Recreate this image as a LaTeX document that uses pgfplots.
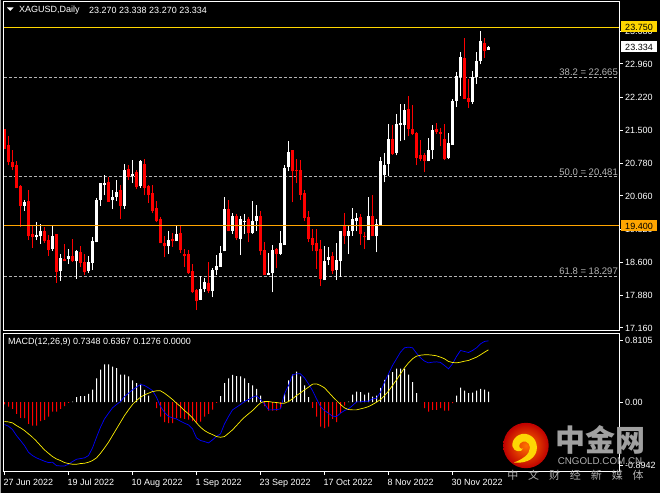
\documentclass[border=0pt]{standalone}
\usepackage{fontspec}
\setmainfont{Liberation Sans}
\newfontfamily\cjk{Noto Sans CJK SC}
\usepackage{pgfplots}
\usepackage{pgfplotstable}
\pgfplotsset{compat=1.18}

\definecolor{fib}{HTML}{B4B4B4}
\definecolor{gold}{HTML}{FFD700}
\definecolor{org}{HTML}{FFA500}
\definecolor{wm}{HTML}{A0A0A0}

% i high top bot low
\pgfplotstableread{
i high top bot low
0 21.54 21.54 21.10 21.10
1 21.37 21.17 20.80 20.73
2 21.06 20.80 20.69 20.62
3 20.82 20.73 20.23 20.23
4 20.29 20.28 19.84 19.38
6 20.20 19.94 19.17 19.09
7 19.41 19.22 19.15 18.92
10 19.37 19.28 19.06 19.03
11 19.21 19.09 18.87 18.74
13 19.22 19.22 18.39 18.15
15 19.01 18.67 18.62 18.62
17 19.11 18.73 18.62 18.61
19 18.95 18.82 18.59 18.50
20 18.79 18.60 18.38 18.32
26 20.47 20.36 19.93 19.93
29 20.31 20.18 19.85 19.55
31 20.75 20.66 20.47 20.40
33 20.64 20.58 20.25 20.22
35 20.88 20.77 20.23 20.07
36 20.31 20.27 20.09 19.90
37 20.29 20.12 19.74 19.68
38 19.94 19.79 19.50 19.48
39 19.59 19.55 19.02 19.02
40 19.17 19.02 18.95 18.71
42 19.24 19.11 19.06 18.94
44 19.43 19.24 18.87 18.81
45 18.90 18.78 18.73 18.50
46 18.87 18.78 18.36 18.34
47 18.56 18.41 17.94 17.92
48 18.01 17.99 17.75 17.55
51 18.60 18.14 17.97 17.92
56 19.96 19.77 19.28 19.28
58 19.67 19.61 19.13 19.09
61 19.59 19.55 19.24 19.04
64 19.72 19.61 18.84 18.76
65 19.04 18.87 18.32 18.32
68 18.91 18.89 18.78 18.47
72 21.08 21.06 20.60 19.92
73 20.88 20.64 20.60 20.34
74 20.84 20.64 20.09 19.98
75 20.18 20.12 19.57 19.50
76 19.72 19.59 19.11 19.04
77 19.33 19.13 18.98 18.84
78 19.33 19.02 18.84 18.45
79 19.09 18.89 18.23 18.08
82 18.82 18.73 18.41 18.35
85 19.68 19.39 19.17 19.00
89 19.66 19.59 19.22 18.98
90 19.26 19.19 19.15 18.89
92 20.09 19.61 19.17 19.17
97 21.61 21.32 20.99 20.97
101 22.26 21.96 21.52 21.37
102 22.05 21.54 21.41 21.39
103 21.47 21.45 20.90 20.73
104 21.30 20.95 20.88 20.82
105 21.01 20.97 20.82 20.58
108 21.67 21.52 21.47 21.43
109 21.56 21.47 21.43 21.15
110 21.63 21.32 20.88 20.84
115 23.52 23.10 22.20 22.18
116 22.62 22.22 22.13 22.00
120 23.54 23.43 23.25 23.10
}\downbars

\pgfplotstableread{
i high top bot low
5 19.98 19.93 19.85 19.74
8 19.49 19.20 19.15 19.09
9 19.45 19.28 19.17 19.00
12 19.39 19.17 18.89 18.85
14 18.79 18.69 18.41 18.19
16 18.90 18.73 18.67 18.57
18 18.87 18.84 18.62 18.24
21 18.73 18.60 18.41 18.37
22 19.15 19.06 18.59 18.43
23 20.01 19.98 19.04 19.04
24 20.34 20.34 19.96 19.84
25 20.51 20.34 20.29 20.07
27 20.18 20.03 19.96 19.77
28 20.40 20.14 20.03 19.94
30 20.77 20.64 19.85 19.78
32 20.84 20.55 20.49 20.34
34 20.86 20.82 20.27 20.23
41 19.28 19.09 18.95 18.78
43 19.39 19.22 19.06 19.06
49 18.30 18.01 17.77 17.77
50 18.25 18.16 18.01 17.95
52 18.47 18.43 17.97 17.83
53 18.76 18.51 18.43 18.32
54 18.95 18.80 18.50 18.50
55 20.03 19.77 18.84 18.84
57 19.69 19.61 19.30 19.22
59 19.63 19.55 19.11 18.76
60 19.66 19.52 19.50 19.22
62 19.94 19.52 19.24 19.22
63 19.87 19.61 19.52 19.28
66 18.80 18.36 18.32 18.32
67 18.98 18.87 18.36 17.94
69 19.30 19.02 18.78 18.76
70 20.73 20.67 18.98 18.98
71 21.26 21.02 20.69 20.60
80 18.95 18.63 18.21 18.21
81 18.93 18.71 18.65 18.54
83 19.02 18.65 18.43 18.21
84 19.30 19.30 18.63 18.28
86 19.39 19.30 19.19 18.78
87 19.79 19.55 19.30 19.19
88 19.68 19.57 19.52 19.28
91 20.03 19.61 19.09 19.09
93 19.55 19.44 19.17 18.82
94 20.91 20.82 19.41 19.41
95 21.01 20.75 20.51 20.36
96 21.63 21.32 20.77 20.49
98 21.85 21.65 21.01 20.95
99 22.07 21.67 21.61 21.26
100 22.09 21.94 21.61 21.28
106 21.34 21.08 20.82 20.82
107 21.61 21.50 21.06 20.88
111 21.45 21.23 20.90 20.88
112 22.20 22.15 21.19 21.19
113 22.79 22.70 22.15 22.02
114 23.23 23.12 22.68 22.26
117 22.81 22.68 22.13 22.07
118 23.23 23.03 22.68 22.53
119 23.69 23.47 23.03 22.95
121 23.36 23.34 23.27 23.27
}\upbars

% MACD histogram
\pgfplotstableread{
i v
0 -.030
1 -.057
2 -.087
3 -.152
4 -.204
5 -.209
6 -.283
7 -.304
8 -.304
9 -.248
10 -.231
11 -.187
12 -.122
13 -.122
14 -.087
15 -.052
16 -.009
38 -.078
39 -.187
40 -.261
41 -.274
42 -.274
43 -.209
44 -.209
45 -.218
46 -.226
47 -.248
48 -.270
49 -.252
50 -.187
51 -.152
52 -.096
53 -.009
65 -.050
66 -.109
67 -.109
68 -.109
69 -.078
77 -.074
78 -.187
79 -.318
80 -.339
81 -.318
82 -.218
83 -.261
84 -.139
85 -.044
105 -.078
106 -.122
107 -.100
108 -.100
109 -.078
110 -.109
111 -.109
112 -.013
}\histdown

\pgfplotstableread{
i v
17 .009
18 .065
19 .078
20 .078
21 .109
22 .165
23 .309
24 .426
25 .492
26 .492
27 .465
28 .444
29 .361
30 .361
31 .335
32 .283
33 .248
34 .239
35 .161
36 .087
54 .078
55 .248
56 .309
57 .357
58 .339
59 .335
60 .309
61 .248
62 .218
63 .174
64 .087
70 .109
71 .283
72 .361
73 .400
74 .335
75 .218
76 .065
86 .009
87 .100
88 .139
89 .131
90 .100
91 .126
92 .074
93 .087
94 .187
95 .291
96 .361
97 .391
98 .439
99 .439
100 .439
101 .361
102 .261
103 .117
113 .087
114 .191
115 .152
116 .117
117 .126
118 .152
119 .174
120 .165
121 .139
}\histup

% MACD line and signal
\pgfplotstableread{
i macd sig
0 -.291 -.252
1 -.313 -.257
2 -.357 -.270
3 -.435 -.305
4 -.500 -.335
5 -.566 -.370
6 -.653 -.413
7 -.696 -.457
8 -.726 -.509
9 -.748 -.566
10 -.770 -.622
11 -.787 -.666
12 -.783 -.709
13 -.827 -.740
14 -.831 -.761
15 -.831 -.787
16 -.809 -.800
17 -.774 -.809
18 -.744 -.809
19 -.735 -.800
20 -.726 -.796
21 -.696 -.783
22 -.596 -.761
23 -.457 -.726
24 -.326 -.666
25 -.218 -.596
26 -.144 -.522
27 -.074 -.435
28 -.030 -.348
29 .009 -.261
30 .074 -.174
31 .117 -.100
32 .161 -.030
33 .196 .022
34 .231 .065
35 .218 .096
36 .187 .117
37 .152 .139
38 .065 .148
39 -.057 .148
40 -.131 .117
41 -.187 .078
42 -.204 .035
43 -.218 -.013
44 -.248 -.057
45 -.274 -.109
46 -.296 -.152
47 -.348 -.204
48 -.465 -.270
49 -.500 -.326
50 -.513 -.370
51 -.531 -.400
52 -.492 -.422
53 -.444 -.448
54 -.413 -.457
55 -.283 -.448
56 -.187 -.405
57 -.100 -.361
58 -.065 -.305
59 -.030 -.248
60 .009 -.196
61 .035 -.152
62 .065 -.109
63 .083 -.057
64 .035 -.009
65 -.022 .009
66 -.100 .009
67 -.100 .000
68 -.096 -.004
69 -.087 -.013
70 .109 -.013
71 .218 .009
72 .357 .044
73 .370 .087
74 .370 .122
75 .318 .161
76 .239 .196
77 .152 .235
78 .044 .239
79 -.057 .218
80 -.109 .187
81 -.144 .131
82 -.183 .074
83 -.187 .022
84 -.144 -.030
85 -.109 -.074
86 -.087 -.096
87 -.044 -.100
88 .004 -.100
89 .004 -.087
90 .013 -.074
91 .013 -.057
92 .044 -.030
93 .052 .000
94 .131 .035
95 .261 .087
96 .370 .144
97 .479 .218
98 .566 .291
99 .653 .370
100 .709 .448
101 .718 .513
102 .709 .566
103 .639 .600
104 .579 .613
105 .535 .618
106 .513 .618
107 .522 .613
108 .526 .605
109 .518 .587
110 .479 .566
111 .435 .531
112 .500 .518
113 .596 .513
114 .674 .522
115 .661 .535
116 .648 .544
117 .674 .566
118 .709 .587
119 .761 .618
120 .792 .652
121 .800 .683
}\macdlines

\pgfplotsset{
  panel/.style={
    scale only axis, width=616pt,
    xmin=-0.25, xmax=153.75,
    axis line style={white, line width=1pt},
    tick style={white, line width=1pt},
    tick align=outside, major tick length=3pt,
    yticklabel pos=right, ytick pos=right, xtick pos=bottom,
    tick label style={white, font=\fontsize{9}{9}\selectfont},
    yticklabel style={anchor=west, inner sep=0pt, xshift=2.5pt},
    axis on top,
  },
  wick/.style={draw=none, no marks, forget plot,
    error bars/.cd, y dir=plus, y explicit, error mark=none,
    error bar style={#1, line width=1pt}},
  body/.style={draw=none, no marks, forget plot,
    error bars/.cd, y dir=plus, y explicit, error mark=none,
    error bar style={#1, line width=3pt}},
}

\begin{document}
\begin{tikzpicture}[x=1pt,y=1pt]
\fill[black] (0,0) rectangle (660,493);
\draw[gray!70, line width=1pt] (0.5,0) -- (0.5,493);
\path[use as bounding box] (0,0) rectangle (660,493);

% price window
\begin{axis}[panel, at={(3.5pt,162.5pt)}, anchor=south west, height=329pt,
  ymin=17.093, ymax=24.321, xtick=\empty,
  ytick={17.16,17.88,18.60,19.32,20.06,20.78,21.50,22.22,22.96,23.68},
  yticklabels={17.160,17.880,18.600,19.320,20.060,20.780,21.500,22.220,22.960,23.680}]
\addplot[fib, line width=0.8pt, dash pattern=on 3pt off 2pt] coordinates {(-0.25,22.665) (153.75,22.665)};
\addplot[fib, line width=0.8pt, dash pattern=on 3pt off 2pt] coordinates {(-0.25,20.481) (153.75,20.481)};
\addplot[fib, line width=0.8pt, dash pattern=on 3pt off 2pt] coordinates {(-0.25,18.297) (153.75,18.297)};
\addplot[wick=red] table[x=i, y=low, y error plus expr=\thisrow{high}-\thisrow{low}] {\downbars};
\addplot[body=red] table[x=i, y=bot, y error plus expr=\thisrow{top}-\thisrow{bot}] {\downbars};
\addplot[wick=white] table[x=i, y=low, y error plus expr=\thisrow{high}-\thisrow{low}] {\upbars};
\addplot[body=white] table[x=i, y=bot, y error plus expr=\thisrow{top}-\thisrow{bot}] {\upbars};
\addplot[gold, line width=1pt] coordinates {(-0.25,23.75) (153.75,23.75)};
\addplot[org, line width=1pt] coordinates {(-0.25,19.4) (153.75,19.4)};
\end{axis}

% MACD window
\begin{axis}[panel, at={(3.5pt,21.5pt)}, anchor=south west, height=139pt,
  ymin=-0.910, ymax=0.902,
  xtick={0,16,32,48,64,80,96,112},
  xticklabels={27 Jun 2022,19 Jul 2022,10 Aug 2022,1 Sep 2022,23 Sep 2022,17 Oct 2022,8 Nov 2022,30 Nov 2022},
  xticklabel style={anchor=north west, inner sep=0pt, xshift=-1pt, yshift=-4pt, text height=6.5pt, text depth=2pt},
  ytick={-0.83,0,0.8105},
  yticklabels={-0.8942,0.00,0.8105}]
\addplot[ybar, bar width=1pt, bar shift=0pt, fill=red, draw=none] table[x=i, y=v] {\histdown};
\addplot[ybar, bar width=1pt, bar shift=0pt, fill=white, draw=none] table[x=i, y=v] {\histup};
\addplot[blue, line width=0.7pt] table[x=i, y=macd] {\macdlines};
\addplot[yellow, line width=0.7pt] table[x=i, y=sig] {\macdlines};
\end{axis}

% everything below is placed in reference pixels, y down
\begin{scope}[shift={(0,493)}, y=-1pt]
\fill[white] (7,7) -- (13.5,7) -- (10.25,10.5) -- cycle;
\node[anchor=west, inner sep=0pt, white, font=\fontsize{9}{9}\selectfont] at (19,9.5) {XAGUSD,Daily};
\node[anchor=west, inner sep=0pt, white, font=\fontsize{9}{9}\selectfont] at (89,9.5) {23.270 23.338 23.270 23.334};
\node[anchor=west, inner sep=0pt, white, font=\fontsize{9}{9}\selectfont] at (8,342) {MACD(12,26,9) 0.7348 0.6367 0.1276 0.0000};
\node[anchor=south east, inner sep=0pt, fib, font=\fontsize{9.5}{9.5}\selectfont] at (618,75) {38.2 = 22.665};
\node[anchor=south east, inner sep=0pt, fib, font=\fontsize{9.5}{9.5}\selectfont] at (618,175) {50.0 = 20.481};
\node[anchor=south east, inner sep=0pt, fib, font=\fontsize{9.5}{9.5}\selectfont] at (618,274.5) {61.8 = 18.297};
% price boxes
\fill[gold] (621,21) rectangle (657,32);
\node[inner sep=0pt, black, font=\fontsize{9}{9}\selectfont] at (639,26.5) {23.750};
\fill[white] (621,41) rectangle (657,52);
\node[inner sep=0pt, black, font=\fontsize{9}{9}\selectfont] at (639,46.5) {23.334};
\fill[org] (621,220) rectangle (657,231);
\node[inner sep=0pt, black, font=\fontsize{9}{9}\selectfont] at (639,225.5) {19.400};
% watermark
\shade[inner color=orange!90!red, outer color=red!75!black] (526,445) circle (22.7);
\fill[yellow!75!orange] (512.5,446) .. controls (511,438) and (520,431) .. (528,434)
  .. controls (537,437) and (538,447) .. (536,452)
  .. controls (533,460) and (524,463) .. (514,462)
  .. controls (522,459) and (530,454) .. (530,447)
  .. controls (530,441) and (523,439) .. (520,443)
  .. controls (518,446) and (520,449) .. (523,448)
  .. controls (522,452) and (514,452) .. (512.5,446) -- cycle;
\node[inner sep=0pt, wm, font=\cjk\bfseries\fontsize{30}{30}\selectfont] at (600.5,439.5) {中金网};
\node[inner sep=0pt, wm!85, font=\fontsize{9.8}{9.8}\selectfont] at (600,461) {CNGOLD.COM.CN};
\node[inner sep=0pt, wm!85, font=\cjk\fontsize{11}{11}\selectfont] at (575.5,475) {中\hspace{9.9pt}文\hspace{9.9pt}财\hspace{9.9pt}经\hspace{9.9pt}新\hspace{9.9pt}媒\hspace{9.9pt}体};
\end{scope}
\end{tikzpicture}
\end{document}
